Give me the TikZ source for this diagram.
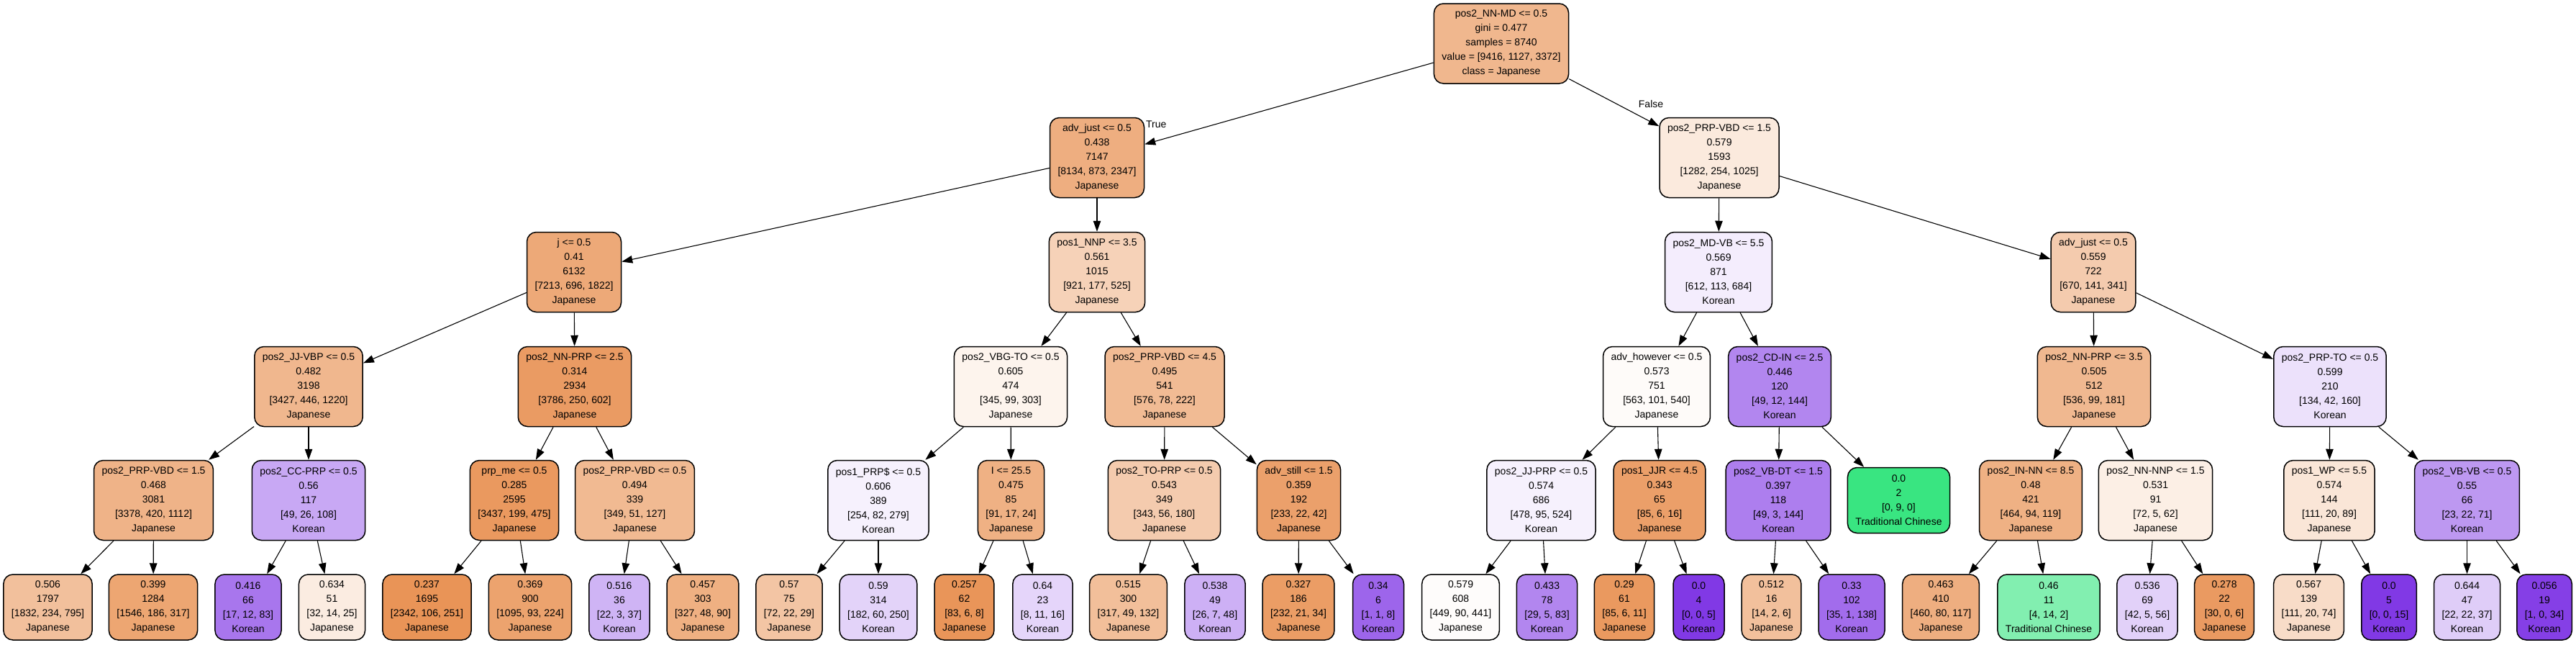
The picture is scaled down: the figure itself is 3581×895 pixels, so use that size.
\documentclass[tikz,border=0pt]{standalone}
\usepackage{fontspec}
\setmainfont{Liberation Sans}
\usetikzlibrary{arrows.meta}
\definecolor{jp}{RGB}{229,129,57}
\definecolor{tc}{RGB}{57,229,129}
\definecolor{kr}{RGB}{129,57,229}
\tikzstyle{decision} = [rectangle, draw, rounded corners=13pt, align=center,
    inner xsep=11pt, inner ysep=4pt, minimum height=111pt,
    font=\fontsize{14}{20}\selectfont, line width=1.5pt]
\tikzstyle{leaf} = [decision, minimum height=91pt, minimum width=71pt]
\tikzstyle{line} = [draw, line width=1.1pt, -{Triangle[length=15pt, width=10.5pt]}]
\tikzstyle{tag} = [font=\fontsize{14}{20}\selectfont]

\begin{document}
\begin{tikzpicture}[x=1pt, y=-1pt]
    \useasboundingbox (0,0) rectangle (3581,895);
    % Place nodes
    % Root
    \node [decision, fill=jp!57] (root) at (2087,60.5) {pos2\_NN-MD <= 0.5\\gini = 0.477\\samples = 8740\\value = [9416, 1127, 3372]\\class = Japanese};

    % Depth 1
    \node [decision, fill=jp!64] (L) at (1525,219) {adv\_just <= 0.5\\0.438\\7147\\{[8134, 873, 2347]}\\Japanese};
    \node [decision, fill=jp!17] (R) at (2390,219) {pos2\_PRP-VBD <= 1.5\\0.579\\1593\\{[1282, 254, 1025]}\\Japanese};

    % Depth 2
    \node [decision, fill=jp!68] (LL) at (798,378) {j <= 0.5\\0.41\\6132\\{[7213, 696, 1822]}\\Japanese};
    \node [decision, fill=jp!36] (LR) at (1525,378) {pos1\_NNP <= 3.5\\0.561\\1015\\{[921, 177, 525]}\\Japanese};
    \node [decision, fill=kr!9] (RL) at (2389,378) {pos2\_MD-VB <= 5.5\\0.569\\871\\{[612, 113, 684]}\\Korean};
    \node [decision, fill=jp!41] (RR) at (2910,378) {adv\_just <= 0.5\\0.559\\722\\{[670, 141, 341]}\\Japanese};

    % Depth 3
    \node [decision, fill=jp!57] (LLL) at (429,537) {pos2\_JJ-VBP <= 0.5\\0.482\\3198\\{[3427, 446, 1220]}\\Japanese};
    \node [decision, fill=jp!79] (LLR) at (799,537) {pos2\_NN-PRP <= 2.5\\0.314\\2934\\{[3786, 250, 602]}\\Japanese};
    \node [decision, fill=jp!9] (LRL) at (1405,537) {pos2\_VBG-TO <= 0.5\\0.605\\474\\{[345, 99, 303]}\\Japanese};
    \node [decision, fill=jp!54] (LRR) at (1619,537) {pos2\_PRP-VBD <= 4.5\\0.495\\541\\{[576, 78, 222]}\\Japanese};
    \node [decision, fill=jp!3] (RLL) at (2303,537) {adv\_however <= 0.5\\0.573\\751\\{[563, 101, 540]}\\Japanese};
    \node [decision, fill=kr!61] (RLR) at (2474,537) {pos2\_CD-IN <= 2.5\\0.446\\120\\{[49, 12, 144]}\\Korean};
    \node [decision, fill=jp!56] (RRL) at (2911,537) {pos2\_NN-PRP <= 3.5\\0.505\\512\\{[536, 99, 181]}\\Japanese};
    \node [decision, fill=kr!15] (RRR) at (3239,537) {pos2\_PRP-TO <= 0.5\\0.599\\210\\{[134, 42, 160]}\\Korean};

    % Depth 4
    \node [decision, fill=jp!60] (LLLL) at (213.5,695) {pos2\_PRP-VBD <= 1.5\\0.468\\3081\\{[3378, 420, 1112]}\\Japanese};
    \node [decision, fill=kr!44] (LLLR) at (429,695) {pos2\_CC-PRP <= 0.5\\0.56\\117\\{[49, 26, 108]}\\Korean};
    \node [decision, fill=jp!81] (LLRL) at (715,695) {prp\_me <= 0.5\\0.285\\2595\\{[3437, 199, 475]}\\Japanese};
    \node [decision, fill=jp!55] (LLRR) at (882.5,695) {pos2\_PRP-VBD <= 0.5\\0.494\\339\\{[349, 51, 127]}\\Japanese};
    \node [decision, fill=kr!7] (LRLL) at (1221,695) {pos1\_PRP\$ <= 0.5\\0.606\\389\\{[254, 82, 279]}\\Korean};
    \node [decision, fill=jp!62] (LRLR) at (1405.5,695) {I <= 25.5\\0.475\\85\\{[91, 17, 24]}\\Japanese};
    \node [decision, fill=jp!41] (LRRL) at (1618.5,695) {pos2\_TO-PRP <= 0.5\\0.543\\349\\{[343, 56, 180]}\\Japanese};
    \node [decision, fill=jp!75] (LRRR) at (1805.5,695) {adv\_still <= 1.5\\0.359\\192\\{[233, 22, 42]}\\Japanese};
    \node [decision, fill=kr!7] (RLLL) at (2142.5,695) {pos2\_JJ-PRP <= 0.5\\0.574\\686\\{[478, 95, 524]}\\Korean};
    \node [decision, fill=jp!76] (RLLR) at (2307,695) {pos1\_JJR <= 4.5\\0.343\\65\\{[85, 6, 16]}\\Japanese};
    \node [decision, fill=kr!65] (RLRL) at (2472,695) {pos2\_VB-DT <= 1.5\\0.397\\118\\{[49, 3, 144]}\\Korean};
    \node [leaf, fill=tc] (RLRR) at (2639.5,695) {0.0\\2\\{[0, 9, 0]}\\Traditional Chinese};
    \node [decision, fill=jp!62] (RRLL) at (2823,695) {pos2\_IN-NN <= 8.5\\0.48\\421\\{[464, 94, 119]}\\Japanese};
    \node [decision, fill=jp!13] (RRLR) at (2996.5,695) {pos2\_NN-NNP <= 1.5\\0.531\\91\\{[72, 5, 62]}\\Japanese};
    \node [decision, fill=jp!20] (RRRL) at (3238,695) {pos1\_WP <= 5.5\\0.574\\144\\{[111, 20, 89]}\\Japanese};
    \node [decision, fill=kr!52] (RRRR) at (3429.5,695) {pos2\_VB-VB <= 0.5\\0.55\\66\\{[23, 22, 71]}\\Korean};

    % Leaves
    \node [leaf, fill=jp!50] (LLLLL) at (66.5,843.5) {0.506\\1797\\{[1832, 234, 795]}\\Japanese};
    \node [leaf, fill=jp!71] (LLLLR) at (213,843.5) {0.399\\1284\\{[1546, 186, 317]}\\Japanese};
    \node [leaf, fill=kr!69] (LLLRL) at (345,843.5) {0.416\\66\\{[17, 12, 83]}\\Korean};
    \node [leaf, fill=jp!15] (LLLRR) at (461.5,843.5) {0.634\\51\\{[32, 14, 25]}\\Japanese};
    \node [leaf, fill=jp!85] (LLRLL) at (593.5,843.5) {0.237\\1695\\{[2342, 106, 251]}\\Japanese};
    \node [leaf, fill=jp!73] (LLRLR) at (737,843.5) {0.369\\900\\{[1095, 93, 224]}\\Japanese};
    \node [leaf, fill=kr!38] (LLRRL) at (861,843.5) {0.516\\36\\{[22, 3, 37]}\\Korean};
    \node [leaf, fill=jp!63] (LLRRR) at (977,843.5) {0.457\\303\\{[327, 48, 90]}\\Japanese};
    \node [leaf, fill=jp!46] (LRLLL) at (1097,843.5) {0.57\\75\\{[72, 22, 29]}\\Japanese};
    \node [leaf, fill=kr!22] (LRLLR) at (1221,843.5) {0.59\\314\\{[182, 60, 250]}\\Korean};
    \node [leaf, fill=jp!84] (LRLRL) at (1340.5,843.5) {0.257\\62\\{[83, 6, 8]}\\Japanese};
    \node [leaf, fill=kr!21] (LRLRR) at (1449.5,843.5) {0.64\\23\\{[8, 11, 16]}\\Korean};
    \node [leaf, fill=jp!51] (LRRLL) at (1568.5,843.5) {0.515\\300\\{[317, 49, 132]}\\Japanese};
    \node [leaf, fill=kr!40] (LRRLR) at (1689,843.5) {0.538\\49\\{[26, 7, 48]}\\Korean};
    \node [leaf, fill=jp!78] (LRRRL) at (1805,843.5) {0.327\\186\\{[232, 21, 34]}\\Japanese};
    \node [leaf, fill=kr!78] (LRRRR) at (1916,843.5) {0.34\\6\\{[1, 1, 8]}\\Korean};
    \node [leaf, fill=jp!2] (RLLLL) at (2030.5,843.5) {0.579\\608\\{[449, 90, 441]}\\Japanese};
    \node [leaf, fill=kr!61] (RLLLR) at (2150.5,843.5) {0.433\\78\\{[29, 5, 83]}\\Korean};
    \node [leaf, fill=jp!81] (RLLRL) at (2258,843.5) {0.29\\61\\{[85, 6, 11]}\\Japanese};
    \node [leaf, fill=kr] (RLLRR) at (2361.5,843.5) {0.0\\4\\{[0, 0, 5]}\\Korean};
    \node [leaf, fill=jp!50] (RLRLL) at (2462.5,843.5) {0.512\\16\\{[14, 2, 6]}\\Japanese};
    \node [leaf, fill=kr!74] (RLRLR) at (2574,843.5) {0.33\\102\\{[35, 1, 138]}\\Korean};
    \node [leaf, fill=jp!64] (RRLLL) at (2698,843.5) {0.463\\410\\{[460, 80, 117]}\\Japanese};
    \node [leaf, fill=tc!63] (RRLLR) at (2848,843.5) {0.46\\11\\{[4, 14, 2]}\\Traditional Chinese};
    \node [leaf, fill=kr!23] (RRLRL) at (2985,843.5) {0.536\\69\\{[42, 5, 56]}\\Korean};
    \node [leaf, fill=jp!80] (RRLRR) at (3092,843.5) {0.278\\22\\{[30, 0, 6]}\\Japanese};
    \node [leaf, fill=jp!28] (RRRLL) at (3209.5,843.5) {0.567\\139\\{[111, 20, 74]}\\Japanese};
    \node [leaf, fill=kr] (RRRLR) at (3321,843.5) {0.0\\5\\{[0, 0, 15]}\\Korean};
    \node [leaf, fill=kr!25] (RRRRL) at (3429.5,843.5) {0.644\\47\\{[22, 22, 37]}\\Korean};
    \node [leaf, fill=kr!97] (RRRRR) at (3537,843.5) {0.056\\19\\{[1, 0, 34]}\\Korean};

    % Draw edges
    % Root
    \path [line] (root) -- node[tag, pos=0.96, above=14pt] {True} (L);
    \path [line] (root) -- node[tag, pos=0.91, above=16pt] {False} (R);

    % Depth 1
    \path [line] (L) -- (LL);
    \path [line] (L) -- (LR);
    \path [line] (R) -- (RL);
    \path [line] (R) -- (RR);

    % Depth 2
    \path [line] (LL) -- (LLL);
    \path [line] (LL) -- (LLR);
    \path [line] (LR) -- (LRL);
    \path [line] (LR) -- (LRR);
    \path [line] (RL) -- (RLL);
    \path [line] (RL) -- (RLR);
    \path [line] (RR) -- (RRL);
    \path [line] (RR) -- (RRR);

    % Depth 3
    \path [line] (LLL) -- (LLLL);
    \path [line] (LLL) -- (LLLR);
    \path [line] (LLR) -- (LLRL);
    \path [line] (LLR) -- (LLRR);
    \path [line] (LRL) -- (LRLL);
    \path [line] (LRL) -- (LRLR);
    \path [line] (LRR) -- (LRRL);
    \path [line] (LRR) -- (LRRR);
    \path [line] (RLL) -- (RLLL);
    \path [line] (RLL) -- (RLLR);
    \path [line] (RLR) -- (RLRL);
    \path [line] (RLR) -- (RLRR);
    \path [line] (RRL) -- (RRLL);
    \path [line] (RRL) -- (RRLR);
    \path [line] (RRR) -- (RRRL);
    \path [line] (RRR) -- (RRRR);

    % Depth 4
    \path [line] (LLLL) -- (LLLLL);
    \path [line] (LLLL) -- (LLLLR);
    \path [line] (LLLR) -- (LLLRL);
    \path [line] (LLLR) -- (LLLRR);
    \path [line] (LLRL) -- (LLRLL);
    \path [line] (LLRL) -- (LLRLR);
    \path [line] (LLRR) -- (LLRRL);
    \path [line] (LLRR) -- (LLRRR);
    \path [line] (LRLL) -- (LRLLL);
    \path [line] (LRLL) -- (LRLLR);
    \path [line] (LRLR) -- (LRLRL);
    \path [line] (LRLR) -- (LRLRR);
    \path [line] (LRRL) -- (LRRLL);
    \path [line] (LRRL) -- (LRRLR);
    \path [line] (LRRR) -- (LRRRL);
    \path [line] (LRRR) -- (LRRRR);
    \path [line] (RLLL) -- (RLLLL);
    \path [line] (RLLL) -- (RLLLR);
    \path [line] (RLLR) -- (RLLRL);
    \path [line] (RLLR) -- (RLLRR);
    \path [line] (RLRL) -- (RLRLL);
    \path [line] (RLRL) -- (RLRLR);
    \path [line] (RRLL) -- (RRLLL);
    \path [line] (RRLL) -- (RRLLR);
    \path [line] (RRLR) -- (RRLRL);
    \path [line] (RRLR) -- (RRLRR);
    \path [line] (RRRL) -- (RRRLL);
    \path [line] (RRRL) -- (RRRLR);
    \path [line] (RRRR) -- (RRRRL);
    \path [line] (RRRR) -- (RRRRR);

\end{tikzpicture}
\end{document}
